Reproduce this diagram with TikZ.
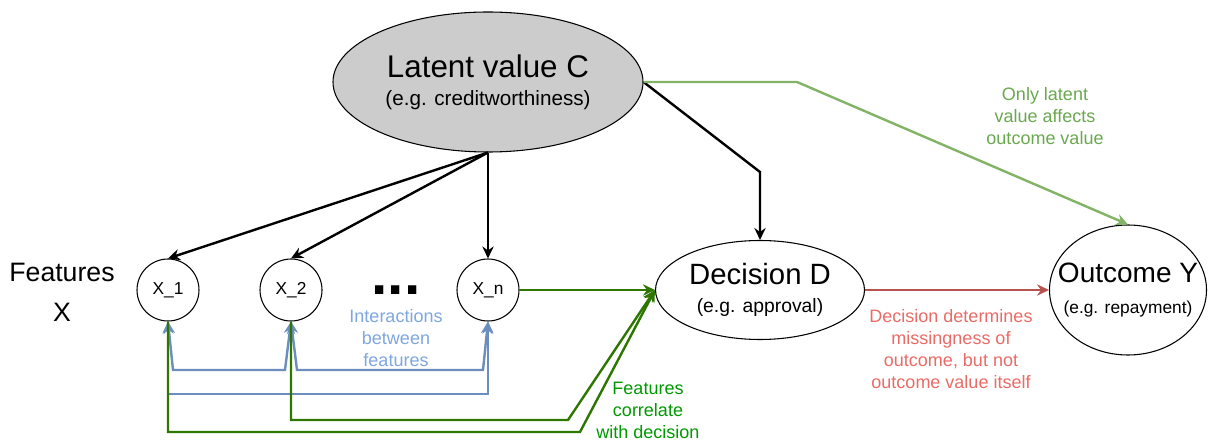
\documentclass[tikz,border=0pt]{standalone}
\usepackage{fontspec}
\setmainfont{Liberation Sans}
\usetikzlibrary{arrows.meta,shapes.geometric}

\definecolor{latentgray}{HTML}{CCCCCC}
\definecolor{featgreen}{HTML}{2D7600}
\definecolor{feattext}{HTML}{009900}
\definecolor{onlygreen}{HTML}{82B366}
\definecolor{onlytext}{HTML}{6AA84F}
\definecolor{interblue}{HTML}{6C8EBF}
\definecolor{intertext}{HTML}{7EA6E0}
\definecolor{missred}{HTML}{B85450}
\definecolor{misstext}{HTML}{EA6B66}

\tikzset{
  var/.style={circle,draw,line width=0.8pt,minimum size=46.5pt,inner sep=0pt,font=\fontsize{13}{15}\selectfont},
  bigvar/.style={ellipse,draw,line width=0.8pt,inner xsep=-25pt,inner ysep=-15pt,align=center},
  link/.style={->,line width=1.8pt},
  note/.style={align=center,font=\fontsize{13.5}{16.5}\selectfont},
}

\begin{document}
\begin{tikzpicture}[>={Stealth[length=9pt,width=8.5pt,inset=3pt]},x=0.75pt,y=-0.75pt]
        \useasboundingbox (0,0) rectangle (1209,445);
        \node[bigvar,fill=latentgray,minimum width=232.5pt,minimum height=105pt,font=\fontsize{15.5}{21}\selectfont] (latent) at (488,82) {{\fontsize{23.5}{28}\selectfont Latent value C}\\(e.g. creditworthiness)};
        \node[bigvar,minimum width=156.75pt,minimum height=74.25pt,font=\fontsize{14.5}{21}\selectfont] (decision) at (760,290) {{\fontsize{22}{26}\selectfont Decision D}\\(e.g. approval)};
        \node[bigvar,minimum width=117.75pt,minimum height=97.5pt,font=\fontsize{13}{23}\selectfont] (outcome) at (1128,290) {{\fontsize{21}{25}\selectfont Outcome Y}\\(e.g. repayment)};
        \node[var] (x1) at (168,290) {X\_1};
        \node[var] (x2) at (291,290) {X\_2};
        \node[var] (xn) at (488,290) {X\_n};
        \node[anchor=base,inner sep=0pt,font=\fontsize{44}{44}\selectfont\bfseries] (dots) at (396,294) {...};
        \node[align=center,font=\fontsize{20}{30}\selectfont] (feat) at (62,292) {Features\\X};
        \coordinate (cbend) at (760,172);
        \coordinate (obend) at (797,82);
        \draw [link] (latent.south) -- (x1.north);
        \draw [link] (latent.south) -- (x2.north);
        \draw [link] (latent.south) -- (xn.north);
        \draw [link] (latent.east) -- (cbend) -- (decision.north);
        \draw [link,onlygreen] (latent.east) -- (obend) -- (outcome.north);
        \draw [link,<->,interblue] (x1.south) -- (173,370) -- (285,370) -- (x2.south);
        \draw [link,<->,interblue] (x2.south) -- (297,370) -- (483,370) -- (xn.south);
        \draw [link,<->,interblue] (x1.south) -- (168,394) -- (488,394) -- (xn.south);
        \draw [link,featgreen] (xn.east) -- (decision.west);
        \draw [link,featgreen] (x2.south) -- (291,420) -- (568,420) -- (decision.west);
        \draw [link,featgreen] (x1.south) -- (168,432) -- (580,432) -- (decision.west);
        \draw [link,missred] (decision.east) -- (outcome.west);
        \node[note,text=intertext] (inter) at (396,338) {Interactions\\between\\features};
        \node[note,text=feattext] (corr) at (648,410) {Features\\correlate\\with decision};
        \node[note,text=onlytext] (only) at (1045,116) {Only latent\\value affects\\outcome value};
        \node[note,text=misstext] (miss) at (951,349) {Decision determines\\missingness of\\outcome, but not\\outcome value itself};
        \end{tikzpicture}
\end{document}
